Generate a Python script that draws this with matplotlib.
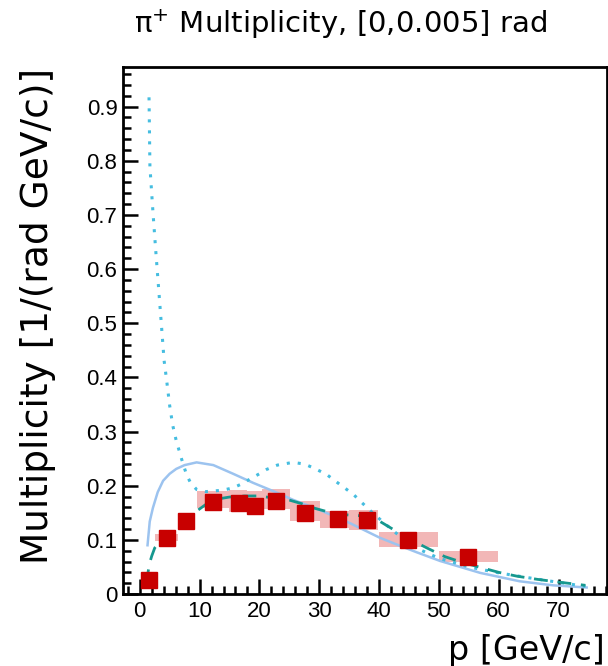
import matplotlib
matplotlib.use("Agg")
import matplotlib.pyplot as plt
from matplotlib.ticker import MultipleLocator, FormatStrFormatter

# data points (red squares)
p_data = [1.5, 4.5, 7.8, 12.3, 16.6, 19.2, 22.7, 27.6, 33.1, 38.0, 44.9, 54.8]
mult = [0.026, 0.104, 0.134, 0.170, 0.168, 0.162, 0.172, 0.150, 0.138, 0.136, 0.099, 0.069]

# systematic boxes: momentum bin edges and lower/upper multiplicity edges
bin_lo = [0.5, 2.5, 6.8, 9.5, 15.0, 18.0, 20.5, 25.1, 30.1, 35.0, 40.0, 50.0]
bin_hi = [2.5, 6.4, 8.8, 15.0, 18.0, 20.5, 25.1, 30.1, 35.0, 39.9, 49.9, 59.8]
sys_lo = [0.020, 0.0975, 0.128, 0.159, 0.152, 0.150, 0.157, 0.135, 0.121, 0.119, 0.087, 0.059]
sys_hi = [0.032, 0.111, 0.140, 0.190, 0.192, 0.190, 0.194, 0.172, 0.153, 0.155, 0.114, 0.079]

# model curves
solid_p = [1.3, 1.67, 2.2, 3.0, 3.9, 5.0, 6.1, 7.5, 9.5, 12.3, 15.6, 19.0, 22.3, 25.6,
           30.1, 35.1, 40.1, 43.5, 46.3, 50.2, 56.9, 63.5, 69.1, 74.7]
solid_y = [0.090, 0.134, 0.159, 0.188, 0.209, 0.222, 0.231, 0.238, 0.243, 0.238, 0.222,
           0.205, 0.190, 0.174, 0.155, 0.131, 0.104, 0.089, 0.077, 0.061, 0.039, 0.0235,
           0.016, 0.012]

dotted_p = [1.55, 1.7, 2.2, 2.7, 3.35, 4.07, 4.5, 5.0, 5.5, 6.1, 7.0, 7.8, 8.5, 9.5, 11.0,
            12.3, 14.0, 15.6, 17.0, 18.4, 20.0, 21.2, 23.0, 25.6, 27.5, 29.0, 31.2, 33.0,
            35.7, 37.0, 39.0, 41.8, 44.0, 46.8, 50.0, 55.0, 60.0, 65.0, 69.7, 74.5]
dotted_y = [0.917, 0.789, 0.706, 0.630, 0.536, 0.431, 0.394, 0.348, 0.312, 0.283, 0.249,
            0.221, 0.205, 0.193, 0.189, 0.190, 0.192, 0.196, 0.203, 0.212, 0.222, 0.230,
            0.238, 0.243, 0.240, 0.233, 0.221, 0.206, 0.184, 0.170, 0.149, 0.122, 0.102,
            0.082, 0.066, 0.050, 0.039, 0.030, 0.022, 0.014]

dashed_p = [1.1, 1.6, 2.0, 2.5, 3.5, 5.0, 6.5, 8.0, 9.5, 11.0, 12.8, 15.0, 17.5, 19.5, 22.0,
            24.5, 27.0, 29.0, 31.0, 33.5, 36.0, 38.0, 40.0, 42.4, 45.0, 48.0, 51.0, 54.0,
            57.0, 60.0, 63.0, 66.5, 70.0, 74.5]
dashed_y = [0.020, 0.055, 0.070, 0.085, 0.098, 0.112, 0.124, 0.138, 0.153, 0.165, 0.175,
            0.179, 0.181, 0.181, 0.178, 0.175, 0.167, 0.159, 0.153, 0.147, 0.145, 0.144,
            0.135, 0.119, 0.102, 0.085, 0.069, 0.058, 0.049, 0.040, 0.033, 0.027, 0.022,
            0.016]

fig = plt.figure(figsize=(6.08, 6.66), dpi=100)
ax = fig.add_axes([123 / 608, 72 / 666, 484 / 608, 527 / 666])

# systematic boxes
widths = [h - l for l, h in zip(bin_lo, bin_hi)]
heights = [h - l for l, h in zip(sys_lo, sys_hi)]
ax.bar(bin_lo, heights, width=widths, bottom=sys_lo, align="edge",
       color="#f2b7b7", edgecolor="none", zorder=1)

ax.plot(solid_p, solid_y, color="#9cc3ef", lw=1.8, zorder=2)
ax.plot(dotted_p, dotted_y, color="#45bde0", lw=2.2, linestyle=(0, (1, 2.6)), zorder=2)
ax.plot(dashed_p, dashed_y, color="#16988f", lw=2.0, linestyle=(0, (5, 3.5)), zorder=3)

ax.plot(p_data, mult, "s", color="#c80000", markersize=11, zorder=4)

ax.set_xlim(-2.8, 78.1)
ax.set_ylim(0, 0.973)
ax.xaxis.set_major_locator(MultipleLocator(10))
ax.xaxis.set_minor_locator(MultipleLocator(2))
ax.yaxis.set_major_locator(MultipleLocator(0.1))
ax.yaxis.set_minor_locator(MultipleLocator(0.02))
ax.yaxis.set_major_formatter(FormatStrFormatter("%g"))

for s in ax.spines.values():
    s.set_linewidth(2.0)
ax.tick_params(which="both", direction="in", width=1.8, top=False, right=False)
ax.tick_params(which="major", length=10.8, labelsize=16)
ax.tick_params(which="minor", length=5.8)
ax.tick_params(axis="y", pad=4)
ax.tick_params(axis="x", pad=5)
for lab in ax.get_xticklabels() + ax.get_yticklabels():
    lab.set_family("Liberation Sans")

fig.text(340 / 608, 1 - 33 / 666, "π$^{+}$ Multiplicity, [0,0.005] rad",
         ha="center", va="baseline", fontsize=21)
fig.text(605 / 608, 6 / 666, "p [GeV/c]", ha="right", va="baseline", fontsize=24)
fig.text(38 / 608, 1 - 68 / 666, "Multiplicity [1/(rad GeV/c)]", rotation=90,
         ha="center", va="top", fontsize=27)

fig.savefig("out.png", dpi=100)
